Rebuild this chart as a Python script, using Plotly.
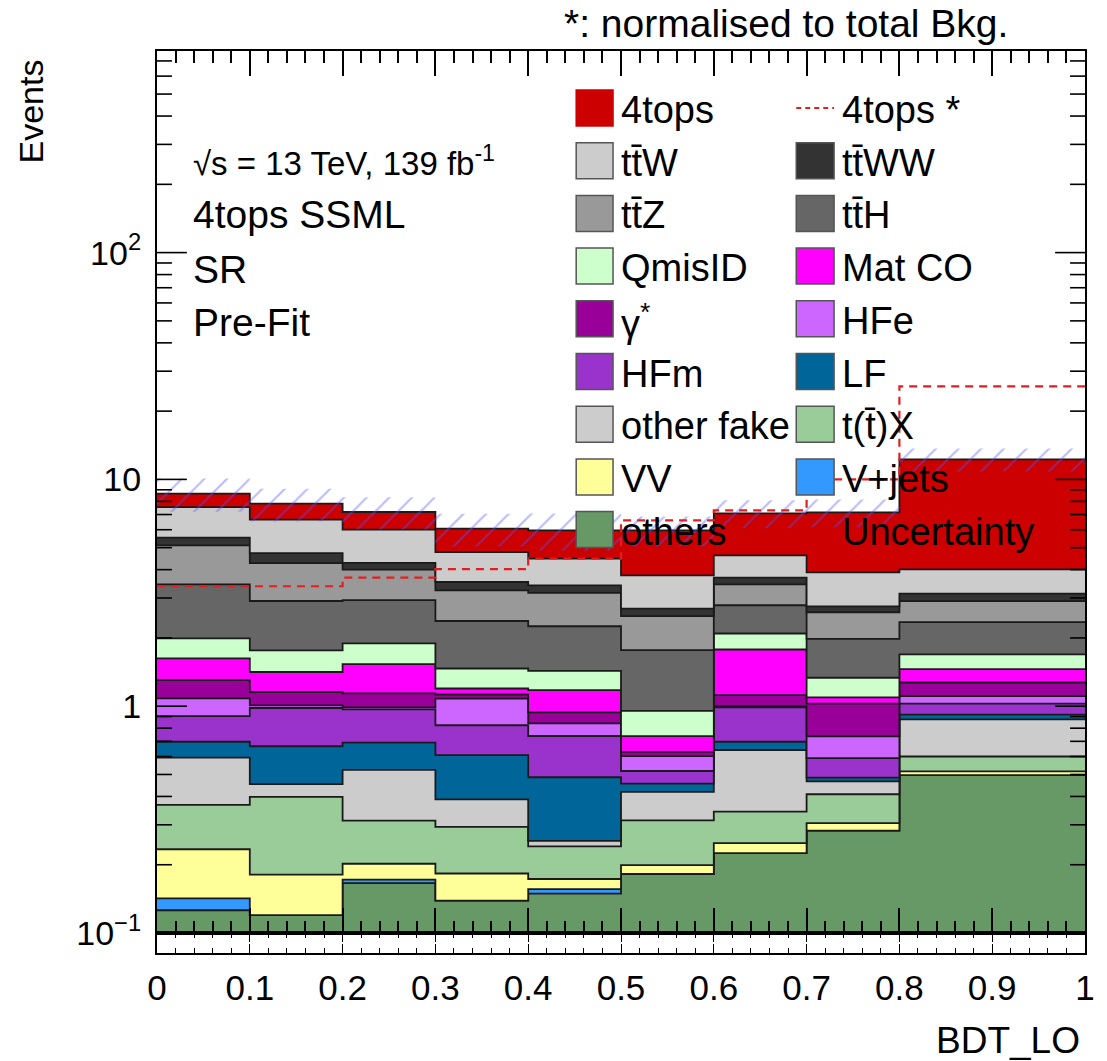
import numpy as np
import plotly.graph_objects as go

# ---------------- data ----------------
bin_edges = [0.0, 0.1, 0.2, 0.3, 0.4, 0.5, 0.6, 0.7, 0.8, 1.0]

# per-process yields, one value per bin (stack order: bottom first)
others      = [0.126, 0.120, 0.166, 0.139, 0.149, 0.182, 0.225, 0.283, 0.497]
v_jets      = [0.016, 0.000, 0.006, 0.000, 0.007, 0.000, 0.000, 0.000, 0.000]
vv          = [0.092, 0.061, 0.030, 0.044, 0.017, 0.017, 0.024, 0.022, 0.019]
t_tbar_x    = [0.133, 0.217, 0.111, 0.111, 0.068, 0.115, 0.094, 0.104, 0.084]
other_fake  = [0.226, 0.055, 0.211, 0.094, 0.014, 0.105, 0.298, 0.057, 0.274]
lf          = [0.104, 0.213, 0.167, 0.220, 0.231, 0.037, 0.056, 0.018, 0.044]
hf_m        = [0.207, 0.316, 0.278, 0.216, 0.253, 0.062, 0.291, 0.106, 0.109]
hf_e        = [0.178, 0.027, 0.020, 0.257, 0.101, 0.084, 0.013, 0.147, 0.080]
gamma_star  = [0.221, 0.146, 0.151, 0.045, 0.099, 0.027, 0.118, 0.289, 0.165]
mat_co      = [0.321, 0.260, 0.394, 0.071, 0.238, 0.109, 0.659, 0.068, 0.184]
qmis_id     = [0.365, 0.349, 0.358, 0.269, 0.255, 0.216, 0.314, 0.241, 0.237]
tth         = [1.459, 1.145, 1.042, 0.909, 0.820, 0.812, 0.695, 0.646, 0.654]
ttz         = [1.674, 1.369, 1.070, 0.868, 0.905, 0.727, 0.660, 0.614, 0.560]
ttww        = [0.416, 0.456, 0.278, 0.285, 0.256, 0.202, 0.244, 0.160, 0.226]
ttw         = [2.015, 1.910, 1.724, 1.255, 1.061, 1.083, 0.937, 1.138, 0.880]
four_tops   = [1.099, 1.171, 1.175, 1.281, 1.488, 2.184, 2.458, 3.263, 8.237]

# signal shape normalised to the total background
four_tops_norm = [3.38, 3.38, 3.69, 4.02, 4.47, 6.60, 7.30, 10.0, 25.7]
# absolute uncertainty on the total prediction
total_unc = [1.45, 1.29, 1.17, 1.00, 1.12, 0.90, 1.00, 1.00, 1.42]

x_ticks = [0, 0.1, 0.2, 0.3, 0.4, 0.5, 0.6, 0.7, 0.8, 0.9, 1]
x_tick_text = ["0", "0.1", "0.2", "0.3", "0.4", "0.5", "0.6", "0.7", "0.8", "0.9", "1"]
y_ticks = [0.1, 1, 10, 100]
y_tick_text = ["10<sup>\u22121</sup>", "1", "10", "10<sup>2</sup>"]

# (label, yields, fill colour) bottom -> top
stack = [
    ("others", others, "#669966"),
    ("V+jets", v_jets, "#3399ff"),
    ("VV", vv, "#ffff99"),
    ("t(t\u0304)X", t_tbar_x, "#99cc99"),
    ("other fake", other_fake, "#cccccc"),
    ("LF", lf, "#006699"),
    ("HFm", hf_m, "#9933cc"),
    ("HFe", hf_e, "#cc66ff"),
    ("\u03b3<sup>*</sup>", gamma_star, "#990099"),
    ("Mat CO", mat_co, "#ff00ff"),
    ("QmisID", qmis_id, "#ccffcc"),
    ("tt\u0304H", tth, "#666666"),
    ("tt\u0304Z", ttz, "#999999"),
    ("tt\u0304WW", ttww, "#333333"),
    ("tt\u0304W", ttw, "#cccccc"),
    ("4tops", four_tops, "#cc0000"),
]
colors = {name: c for name, _, c in stack}

# ---------------- geometry ----------------
W, H = 1107, 1061
PL, PR, PT, PB = 157, 1089, 51, 953       # plot frame in pixels
Y_MIN_PX = 933                             # pixel of y = 0.1
DECADE = 226.8
band = (PB - Y_MIN_PX) / (PB - PT)
y_top = -1 + (Y_MIN_PX - PT) / DECADE
FONT = "Liberation Sans, Arial, Helvetica, sans-serif"
HATCH = "rgba(85,85,255,0.85)"


def paper(xp, yp):
    return (xp - PL) / (PR - PL), (PB - yp) / (PB - PT)


def step_y(vals):
    v = list(vals)
    return v + [v[-1]]


def txt(size):
    return dict(family=FONT, size=size, color="black")


fig = go.Figure()

# baseline for the lowest fill
fig.add_trace(go.Scatter(x=bin_edges, y=step_y([0.1] * 9), mode="lines",
                         line=dict(width=0, shape="hv"), hoverinfo="skip",
                         showlegend=False))

cum = np.zeros(len(others))
for name, vals, col in stack:
    cum = cum + np.array(vals)
    fig.add_trace(go.Scatter(
        x=bin_edges, y=step_y(cum), mode="lines", name=name,
        line=dict(color="#1a1a1a", width=1.8, shape="hv"),
        fill="tonexty", fillcolor=col, showlegend=False))

total = cum
unc = np.array(total_unc)
fig.add_trace(go.Scatter(x=bin_edges, y=step_y(total - unc), mode="lines",
                         line=dict(width=0, shape="hv"), showlegend=False,
                         hoverinfo="skip"))
fig.add_trace(go.Scatter(
    x=bin_edges, y=step_y(total + unc), mode="lines",
    line=dict(width=0, shape="hv"), fill="tonexty",
    fillcolor="rgba(0,0,0,0)",
    fillpattern=dict(shape="/", fgcolor=HATCH, size=16, solidity=0.12),
    showlegend=False, name="Uncertainty"))

fig.add_trace(go.Scatter(
    x=bin_edges, y=step_y(four_tops_norm), mode="lines", name="4tops *",
    line=dict(color="#e02020", width=2.2, dash="8px,6px", shape="hv"),
    showlegend=False))

# empty trace so the lower strip gets its own axes
fig.add_trace(go.Scatter(x=[0, 1], y=[0.5, 0.5], xaxis="x2", yaxis="y2",
                         mode="lines", line=dict(width=0), hoverinfo="skip",
                         showlegend=False))

shapes = []
# y-axis ticks (log, inside, both sides)
for d in range(-1, 3):
    for k in range(1, 10):
        val = k * 10.0 ** d
        if np.log10(val) > y_top:
            continue
        ln = 30 if k == 1 else 15
        f = ln / (PR - PL)
        for x0, x1 in ((0, f), (1 - f, 1)):
            shapes.append(dict(type="line", xref="paper", yref="y",
                               x0=x0, x1=x1, y0=val, y1=val,
                               line=dict(color="black", width=1.6),
                               layer="above"))

# line at the lower edge of the stack
shapes.append(dict(type="line", xref="paper", yref="paper", x0=0, x1=1,
                   y0=band, y1=band, line=dict(color="black", width=2),
                   layer="above"))

# legend
row_y = [108 + 52.7 * i for i in range(9)]
col_box = [(578, 615), (799, 837)]
col_txt = [621, 843]
legend_cols = [
    ["4tops", "tt\u0304W", "tt\u0304Z", "QmisID", "\u03b3<sup>*</sup>", "HFm",
     "other fake", "VV", "others"],
    ["4tops *", "tt\u0304WW", "tt\u0304H", "Mat CO", "HFe", "LF",
     "t(t\u0304)X", "V+jets", "Uncertainty"],
]
annotations = []
for ci, entries in enumerate(legend_cols):
    bx0, bx1 = col_box[ci]
    for ri, label in enumerate(entries):
        yc = row_y[ri]
        if label in colors:
            x0, y0 = paper(bx0, yc + 18)
            x1, y1 = paper(bx1, yc - 18)
            edge = colors[label] if label == "4tops" else "#555555"
            shapes.append(dict(type="rect", xref="paper", yref="paper",
                               x0=x0, x1=x1, y0=y0, y1=y1,
                               fillcolor=colors[label],
                               line=dict(color=edge, width=1.5), layer="above"))
        elif label == "4tops *":
            x0, yy = paper(bx0, yc)
            x1, _ = paper(bx1, yc)
            shapes.append(dict(type="line", xref="paper", yref="paper",
                               x0=x0, x1=x1, y0=yy, y1=yy,
                               line=dict(color="#e02020", width=2.2,
                                         dash="5px,4px"), layer="above"))
        tx, ty = paper(col_txt[ci], yc + 2)
        annotations.append(dict(xref="paper", yref="paper", x=tx, y=ty,
                                text=label, showarrow=False, xanchor="left",
                                yanchor="middle", font=txt(38)))

# info text
info = [("\u221as = 13 TeV, 139 fb<sup>-1</sup>", 33), ("4tops SSML", 39),
        ("SR", 39), ("Pre-Fit", 39)]
for i, (t, sz) in enumerate(info):
    tx, ty = paper(191, 161 + 54 * i)
    annotations.append(dict(xref="paper", yref="paper", x=tx, y=ty, text=t,
                            showarrow=False, xanchor="left", yanchor="middle",
                            font=txt(sz)))

tx, ty = paper(564, 24)
annotations.append(dict(xref="paper", yref="paper", x=tx, y=ty,
                        text="*: normalised to total Bkg.", showarrow=False,
                        xanchor="left", yanchor="middle", font=txt(39)))
tx, ty = paper(30, 112)
annotations.append(dict(xref="paper", yref="paper", x=tx, y=ty, text="Events",
                        textangle=-90, showarrow=False, xanchor="center",
                        yanchor="middle", font=txt(34)))
tx, ty = paper(1086, 1040)
annotations.append(dict(xref="paper", yref="paper", x=tx, y=ty, text="BDT_LO",
                        showarrow=False, xanchor="right", yanchor="middle",
                        font=txt(37)))

fig.update_layout(
    width=W, height=H,
    margin=dict(l=PL, r=W - PR, t=PT, b=H - PB),
    paper_bgcolor="white", plot_bgcolor="white",
    showlegend=False,
    shapes=shapes, annotations=annotations,
    xaxis=dict(domain=[0, 1], anchor="y", range=[0, 1], showgrid=False,
               zeroline=False, showticklabels=False, showline=True,
               linecolor="black", linewidth=2, mirror="ticks",
               ticks="inside", ticklen=25, tickwidth=1.6, tickcolor="black",
               tick0=0, dtick=0.1,
               minor=dict(ticks="inside", ticklen=12, tickwidth=1.6,
                          tickcolor="black", tick0=0, dtick=0.02,
                          showgrid=False)),
    yaxis=dict(domain=[band, 1], anchor="x", type="log", range=[-1, y_top],
               showgrid=False, zeroline=False, showline=True,
               linecolor="black", linewidth=2, mirror=True, ticks="",
               tickvals=y_ticks, ticktext=y_tick_text,
               ticklabelstandoff=7, tickfont=txt(34)),
    xaxis2=dict(domain=[0, 1], anchor="y2", range=[0, 1], showgrid=False,
                zeroline=False, showline=True, linecolor="black", linewidth=2,
                mirror="ticks", ticks="inside", ticklen=9, tickwidth=1.4,
                tickcolor="black", tickvals=x_ticks, ticktext=x_tick_text,
                minor=dict(ticks="inside", ticklen=5, tickwidth=1.2,
                           tickcolor="black", tick0=0, dtick=0.02),
                ticklabelstandoff=3, tickfont=txt(35)),
    yaxis2=dict(domain=[0, band], anchor="x2", range=[0, 1], showgrid=False,
                zeroline=False, showline=True, linecolor="black", linewidth=2,
                mirror=True, ticks="", showticklabels=False, fixedrange=True),
)

fig.write_html("out.html")
